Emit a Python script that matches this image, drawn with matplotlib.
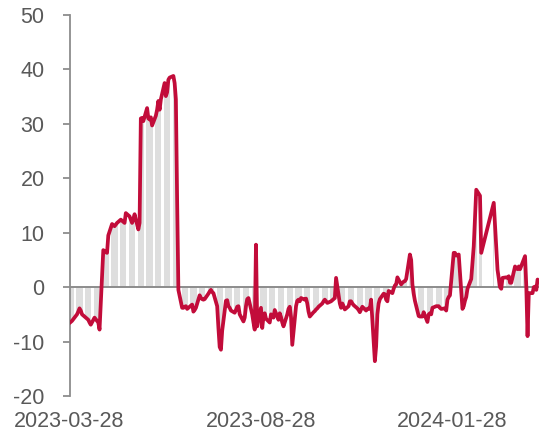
import matplotlib
matplotlib.use("Agg")
import matplotlib.pyplot as plt
import pandas as pd

plt.rcParams['font.family'] = ['Liberation Sans', 'DejaVu Sans']

# business days, with a data gap in late Feb 2024
all_days = pd.bdate_range('2023-03-28', '2024-04-05')
gap = pd.bdate_range('2024-02-21', '2024-02-29')
dates = all_days.difference(gap)

values = [
    -6.6, -6.4, -6.2, -5.9,
    -5.0, -4.5, -3.9, -4.3, -5.0,
    -5.6, -5.8, -6.0, -6.5, -6.9,
    -5.6, -5.9, -6.2, -6.5, -7.8,
    6.8, 6.6, 6.4, 6.3, 9.5,
    11.6, 11.4, 11.2, 11.5, 11.8,
    12.4, 12.2, 12.0, 11.8, 13.6,
    13.0, 12.4, 11.8, 12.5, 13.4,
    10.6, 11.8, 31.0, 31.1, 30.5,
    32.9, 31.0, 30.8, 31.2, 29.7,
    31.5, 32.6, 34.2, 32.6, 34.5,
    37.5, 35.1, 35.8, 38.1, 38.5,
    38.8, 37.5, 34.5, 16.0, -0.5,
    -3.8, -3.8, -3.6, -3.5, -4.0,
    -3.4, -3.2, -4.5, -4.2, -3.8,
    -1.5, -2.0, -2.2, -2.3, -2.2,
    -1.2, -0.8, -0.5, -0.9, -1.1,
    -3.5, -7.5, -11.0, -11.5, -8.0,
    -2.5, -2.4, -3.5, -3.8, -4.3,
    -4.7, -4.2, -3.6, -3.5, -5.0,
    -6.3, -5.6, -3.5, -2.2, -2.0,
    -5.0, -6.5, -7.8, 7.8, -7.2,
    -3.8, -7.5, -5.4, -4.8, -5.8,
    -6.5, -5.0, -5.2, -5.6, -4.2,
    -6.0, -4.8, -5.5, -6.5, -7.2,
    -5.0, -4.0, -3.6, -5.5, -10.6,
    -3.5, -2.5, -2.3, -2.6, -2.0,
    -2.3, -2.1, -3.0, -4.5, -5.4,
    -4.6, -4.4, -4.1, -3.9, -3.6,
    -3.0, -2.6, -2.3, -2.6, -2.9,
    -2.6, -2.4, -2.2, -2.0, 1.7,
    -3.0, -3.8, -3.0, -3.5, -4.1,
    -3.5, -2.6, -2.6, -3.0, -3.3,
    -3.9, -4.2, -4.6, -4.1, -3.6,
    -4.3, -4.0, -3.9, -4.0, -2.3,
    -13.6, -10.9, -5.0, -3.0, -2.2,
    -1.2, -1.3, -2.3, -2.6, -0.7,
    -1.1, -0.3, 0.3, 0.5, 1.8,
    0.5, 0.8, 1.0, 1.1, 1.5,
    6.0, 5.0, 0.5, -1.2, -2.5,
    -5.3, -5.4, -5.4, -5.4, -4.6,
    -6.4, -5.0, -4.8, -5.0, -3.8,
    -3.5, -3.5, -3.5, -3.8, -4.0,
    -3.9, -4.3, -2.3, -1.8, -1.5,
    6.3, 6.3, 5.8, 5.9, 6.0,
    -4.0, -3.5, -2.5, -1.8, -0.3,
    1.5, 4.5, 7.5, 12.5, 17.9,
    16.8, 6.3,
    15.5,
    3.2, 1.6, 0.0, -0.3, 1.7,
    1.8, 1.7, 2.0, 0.8, 0.8,
    3.8, 3.5, 3.3, 3.8, 3.3,
    5.1, 5.7, 0.1, -9.0, -1.1,
    -1.1, 0.0, 0.1, -0.5, 1.4,
]

tick_labels = ['2023-03-28', '2023-08-28', '2024-01-28']
y_ticks = [-20, -10, 0, 10, 20, 30, 40, 50]

assert len(values) == len(dates), (len(values), len(dates))

W, H = 539, 434
fig = plt.figure(figsize=(W / 100, H / 100), dpi=100)
ax = fig.add_axes([69.5 / W, 1 - 396 / H, (W - 69.5) / W, (396 - 15) / H])

ax.bar(dates, values, width=1.0, color='#dedede', linewidth=0, zorder=1)
ax.axhline(0, color='#8c8c8c', linewidth=1.4, zorder=2)
ax.plot(dates, values, color='#C20C3A', linewidth=2.7, zorder=3,
        solid_joinstyle='round', solid_capstyle='round')

start = pd.Timestamp('2023-03-28') + pd.Timedelta(hours=10)
ax.set_xlim(start, start + pd.Timedelta(days=(W - 69.5) / 1.2529))
ax.set_ylim(-20, 50)

ax.set_yticks(y_ticks)
ax.set_yticklabels([str(v) for v in y_ticks])
ax.set_xticks([pd.Timestamp(t) for t in tick_labels])
ax.set_xticklabels(tick_labels)

for s in ['top', 'right', 'bottom']:
    ax.spines[s].set_visible(False)
ax.spines['left'].set_color('#8c8c8c')
ax.spines['left'].set_linewidth(1.3)

ax.tick_params(axis='y', direction='out', length=5, width=1.3, color='#8c8c8c',
               labelsize=15.5, labelcolor='#595959', pad=13)
ax.tick_params(axis='x', length=0, labelsize=15.5, labelcolor='#595959', pad=11)

fig.savefig('out.png', dpi=100)
